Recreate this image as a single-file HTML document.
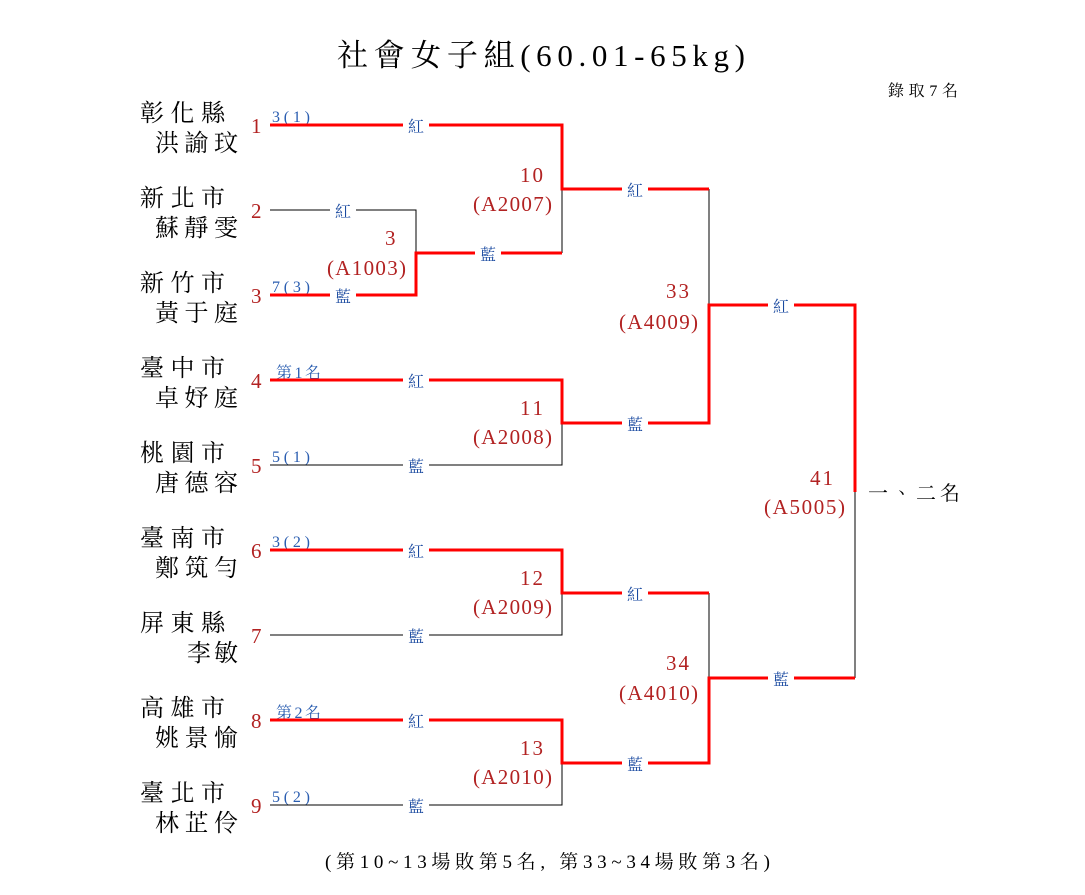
<!DOCTYPE html>
<html><head><meta charset="utf-8"><style>
html,body{margin:0;padding:0;background:#fff;}
svg text{font-family:"Liberation Serif","Noto Serif CJK TC","Noto Serif CJK SC",serif;}
.nm{font-size:24px;fill:#000;}
.sd{font-size:21px;fill:#b22222;}
.sl{font-size:16px;fill:#2a5db0;}
.lb{font-size:16px;fill:#1a4aa0;}
.mn{font-size:21px;fill:#b22222;}
</style></head><body>
<svg width="1085" height="890" xmlns="http://www.w3.org/2000/svg">
<text x="337" y="66" font-size="31" textLength="408" lengthAdjust="spacing">社會女子組(60.01-65kg)</text>
<text x="888" y="96" font-size="16" textLength="70">錄取7名</text>

<g class="nm">
<text x="140" y="121" textLength="85">彰化縣</text><text x="155" y="151" textLength="83">洪諭玟</text>
<text x="140" y="206" textLength="85">新北市</text><text x="155" y="236" textLength="83">蘇靜雯</text>
<text x="140" y="291" textLength="85">新竹市</text><text x="155" y="321" textLength="83">黃于庭</text>
<text x="140" y="376" textLength="85">臺中市</text><text x="155" y="406" textLength="83">卓妤庭</text>
<text x="140" y="461" textLength="85">桃園市</text><text x="155" y="491" textLength="83">唐德容</text>
<text x="140" y="546" textLength="85">臺南市</text><text x="155" y="576" textLength="83">鄭筑勻</text>
<text x="140" y="631" textLength="85">屏東縣</text><text x="187" y="661" textLength="51">李敏</text>
<text x="140" y="716" textLength="85">高雄市</text><text x="155" y="746" textLength="83">姚景愉</text>
<text x="140" y="801" textLength="85">臺北市</text><text x="155" y="831" textLength="83">林芷伶</text>
</g>
<g class="sd">
<text x="251" y="133">1</text><text x="251" y="218">2</text><text x="251" y="303">3</text>
<text x="251" y="388">4</text><text x="251" y="473">5</text><text x="251" y="558">6</text>
<text x="251" y="643">7</text><text x="251" y="728">8</text><text x="251" y="813">9</text>
</g>
<g class="sl">
<text x="272" y="122" textLength="38">3(1)</text><text x="272" y="292" textLength="38">7(3)</text>
<text x="276" y="378" textLength="45">第1名</text><text x="272" y="462" textLength="38">5(1)</text>
<text x="272" y="547" textLength="38">3(2)</text><text x="276" y="718" textLength="45">第2名</text>
<text x="272" y="802" textLength="38">5(2)</text>
</g>

<g stroke="#000" stroke-width="1" fill="none">
<path d="M270 210H416V253"/>
<path d="M270 465H562V423"/>
<path d="M270 635H562V593"/>
<path d="M270 805H562V763"/>
<path d="M562 189V253"/>
<path d="M709 189V305"/>
<path d="M709 593V678"/>
<path d="M855 492V678"/>
</g>
<g stroke="#ff0000" stroke-width="3" fill="none">
<path d="M270 295H416V253H562"/>
<path d="M270 125H562V189H709"/>
<path d="M270 380H562V423H709V305H855V492"/>
<path d="M270 550H562V593H709"/>
<path d="M270 720H562V763H709V678H855"/>
</g>
<g fill="#fff">
<rect x="403" y="115" width="26" height="20"/><rect x="330" y="200" width="26" height="20"/>
<rect x="330" y="285" width="26" height="20"/><rect x="475" y="243" width="26" height="20"/>
<rect x="403" y="370" width="26" height="20"/><rect x="403" y="455" width="26" height="20"/>
<rect x="403" y="540" width="26" height="20"/><rect x="403" y="625" width="26" height="20"/>
<rect x="403" y="710" width="26" height="20"/><rect x="403" y="795" width="26" height="20"/>
<rect x="622" y="179" width="26" height="20"/><rect x="622" y="413" width="26" height="20"/>
<rect x="622" y="583" width="26" height="20"/><rect x="622" y="753" width="26" height="20"/>
<rect x="768" y="295" width="26" height="20"/><rect x="768" y="668" width="26" height="20"/>
</g>
<g class="lb" text-anchor="middle">
<text x="416" y="132">紅</text><text x="343" y="217">紅</text>
<text x="343" y="302">藍</text><text x="488" y="260">藍</text>
<text x="416" y="387">紅</text><text x="416" y="472">藍</text>
<text x="416" y="557">紅</text><text x="416" y="642">藍</text>
<text x="416" y="727">紅</text><text x="416" y="812">藍</text>
<text x="635" y="196">紅</text><text x="635" y="430">藍</text>
<text x="635" y="600">紅</text><text x="635" y="770">藍</text>
<text x="781" y="312">紅</text><text x="781" y="685">藍</text>
</g>
<g class="mn">
<text x="385" y="245">3</text><text x="327" y="275" textLength="79">(A1003)</text>
<text x="520" y="182" textLength="23">10</text><text x="473" y="211" textLength="79">(A2007)</text>
<text x="520" y="415" textLength="23">11</text><text x="473" y="444" textLength="79">(A2008)</text>
<text x="520" y="585" textLength="23">12</text><text x="473" y="614" textLength="79">(A2009)</text>
<text x="520" y="755" textLength="23">13</text><text x="473" y="784" textLength="79">(A2010)</text>
<text x="666" y="298" textLength="23">33</text><text x="619" y="329" textLength="79">(A4009)</text>
<text x="666" y="670" textLength="23">34</text><text x="619" y="700" textLength="79">(A4010)</text>
<text x="810" y="485" textLength="23">41</text><text x="764" y="514" textLength="81">(A5005)</text>
</g>
<text x="868" y="500" font-size="20" textLength="92">一、二名</text>
<text x="325" y="868" font-size="19" textLength="445" lengthAdjust="spacing">(第10~13場敗第5名, 第33~34場敗第3名)</text>
</svg>
</body></html>
